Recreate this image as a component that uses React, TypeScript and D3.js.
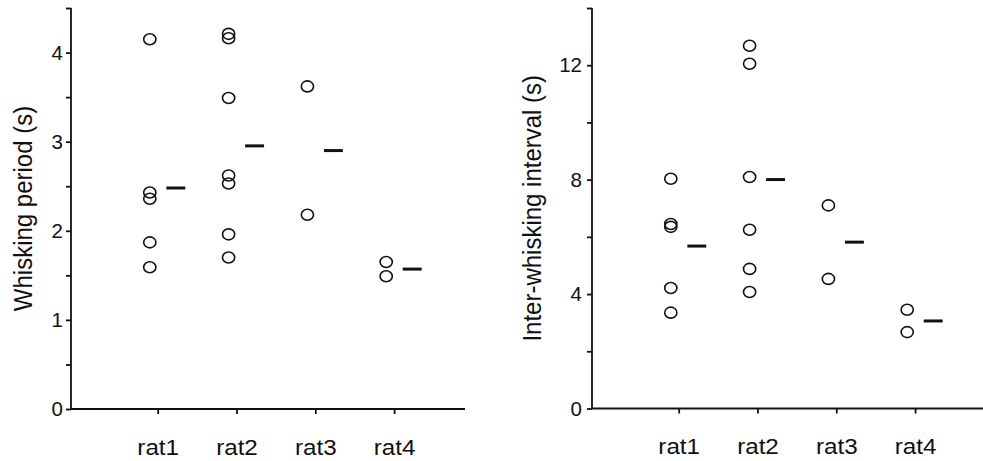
import React, { useEffect, useRef } from 'react';
import * as d3 from 'd3';

// rats on the x axis
const categories = ['rat1', 'rat2', 'rat3', 'rat4'];

// whisking period (s), one list per rat
const periodValues = [
  [4.15, 2.43, 2.36, 1.87, 1.59],
  [4.21, 4.16, 3.49, 2.62, 2.53, 1.96, 1.7],
  [3.62, 2.18],
  [1.65, 1.49],
];

// inter-whisking interval (s), one list per rat
const intervalValues = [
  [8.03, 6.45, 6.35, 4.21, 3.35],
  [12.68, 12.05, 8.09, 6.25, 4.88, 4.07],
  [7.1, 4.53],
  [3.45, 2.67],
];

const periodTicks = [0, 1, 2, 3, 4];
const intervalTicks = [0, 4, 8, 12];

const W = 983;
const H = 461;
const FONT = "'Liberation Sans', Arial, Helvetica, sans-serif";

type Panel = {
  left: number;
  right: number;
  top: number;
  bottom: number;
  yMax: number;
  minorStep: number;
  labels: number[];
  values: number[][];
  title: string;
  titleX: number;
  labelPad: number;
};

function drawPanel(svg: d3.Selection<SVGSVGElement, unknown, null, undefined>, p: Panel) {
  const x = d3.scaleLinear().domain([0, 5]).range([p.left, p.right]);
  const y = d3.scaleLinear().domain([0, p.yMax]).range([p.bottom, p.top]);
  const g = svg.append('g');

  // y axis, minor + major ticks
  const yAxis = d3.axisLeft(y)
    .tickValues(d3.range(0, p.yMax + p.minorStep / 2, p.minorStep))
    .tickSize(5)
    .tickPadding(p.labelPad)
    .tickFormat((d) => (p.labels.includes(+d) ? String(d) : ''));
  const ya = g.append('g').attr('transform', `translate(${p.left},0)`).call(yAxis);
  ya.select('.domain').attr('d', `M0,${p.bottom}V${p.top}`);

  // x axis with category ticks
  const xAxis = d3.axisBottom(x)
    .tickValues(categories.map((_, i) => i + 1.1))
    .tickSize(5)
    .tickPadding(25)
    .tickFormat((_, i) => categories[i]);
  const xa = g.append('g').attr('transform', `translate(0,${p.bottom})`).call(xAxis);
  xa.select('.domain').attr('d', `M${p.left},0H${p.right}`);

  [ya, xa].forEach((a) => {
    a.selectAll('path, line').attr('stroke', '#111').attr('stroke-width', 1.8);
    a.selectAll('text').attr('fill', '#111').attr('font-family', FONT);
  });
  ya.selectAll('text').attr('font-size', 20.5);
  xa.selectAll('text').attr('font-size', 22).attr('transform', 'scale(1.1,1)');

  // raw points
  p.values.forEach((vals, i) => {
    g.append('g')
      .selectAll('ellipse')
      .data(vals)
      .join('ellipse')
      .attr('cx', x(i + 1))
      .attr('cy', (d) => y(d))
      .attr('rx', 6.1)
      .attr('ry', 5.5)
      .attr('fill', 'none')
      .attr('stroke', '#111')
      .attr('stroke-width', 1.6);

    // mean marker
    const m = d3.mean(vals) as number;
    g.append('line')
      .attr('x1', x(i + 1.21))
      .attr('x2', x(i + 1.45))
      .attr('y1', y(m))
      .attr('y2', y(m))
      .attr('stroke', '#111')
      .attr('stroke-width', 3);
  });

  g.append('text')
    .attr('transform', `translate(${p.titleX},${(p.top + p.bottom) / 2}) rotate(-90) scale(1,1.1)`)
    .attr('text-anchor', 'middle')
    .attr('font-family', FONT)
    .attr('font-size', 24)
    .attr('fill', '#111')
    .text(p.title);
}

export default function App() {
  const ref = useRef<SVGSVGElement>(null);

  useEffect(() => {
    const svg = d3.select(ref.current as SVGSVGElement);
    svg.selectAll('*').remove();

    drawPanel(svg, {
      left: 71, right: 465, top: 8, bottom: 409,
      yMax: 4.5, minorStep: 0.5, labels: periodTicks,
      values: periodValues, title: 'Whisking period (s)', titleX: 32, labelPad: 3,
    });
    drawPanel(svg, {
      left: 592, right: 986, top: 8, bottom: 408.5,
      yMax: 14, minorStep: 2, labels: intervalTicks,
      values: intervalValues, title: 'Inter-whisking interval (s)', titleX: 541, labelPad: 5,
    });
  }, []);

  return (
    <svg
      ref={ref}
      width={W}
      height={H}
      style={{ position: 'absolute', left: 0, top: 0, background: '#fff' }}
    />
  );
}
